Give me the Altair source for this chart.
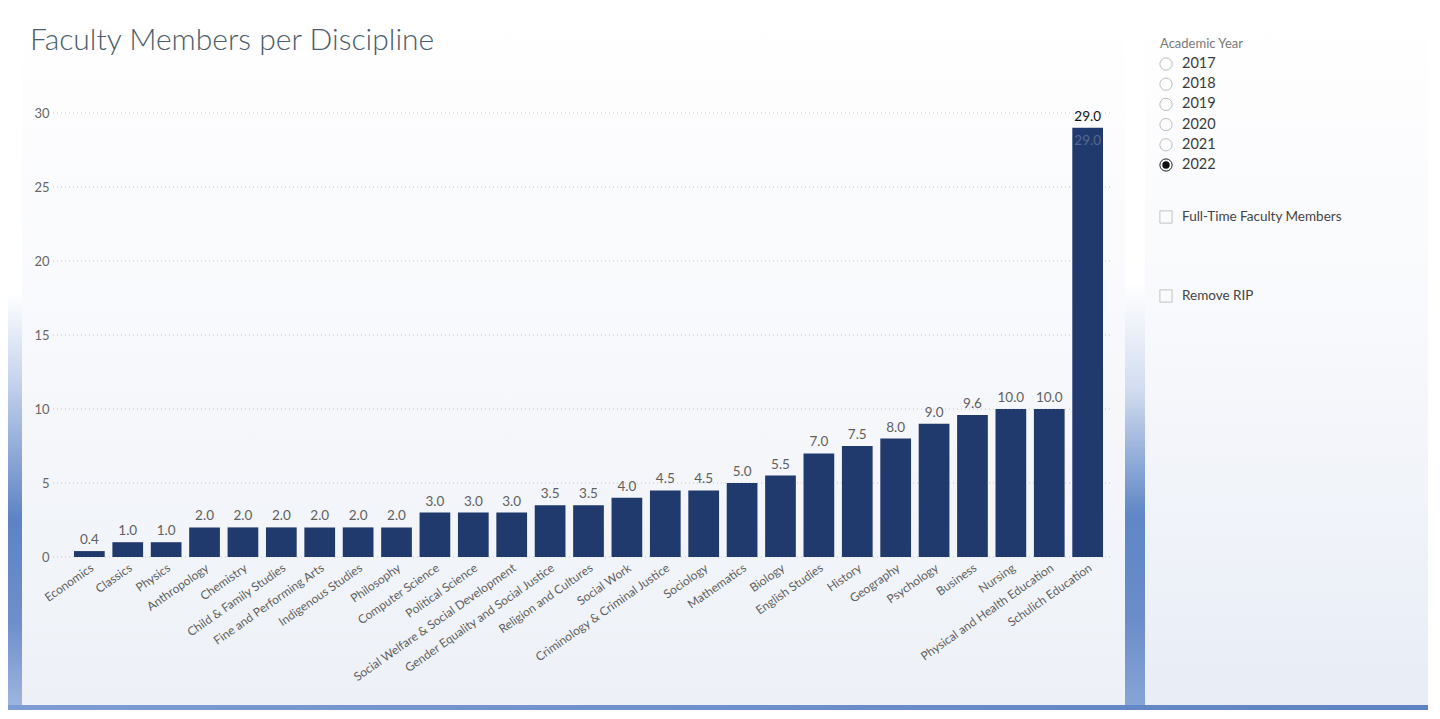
import altair as alt
import pandas as pd

# ---------------- data ----------------
disciplines = [
    "Economics", "Classics", "Physics", "Anthropology", "Chemistry",
    "Child & Family Studies", "Fine and Performing Arts", "Indigenous Studies",
    "Philosophy", "Computer Science", "Political Science",
    "Social Welfare & Social Development", "Gender Equality and Social Justice",
    "Religion and Cultures", "Social Work", "Criminology & Criminal Justice",
    "Sociology", "Mathematics", "Biology", "English Studies", "History",
    "Geography", "Psychology", "Business", "Nursing",
    "Physical and Health Education", "Schulich Education",
]
faculty = [0.4, 1.0, 1.0, 2.0, 2.0, 2.0, 2.0, 2.0, 2.0, 3.0, 3.0, 3.0, 3.5, 3.5,
           4.0, 4.5, 4.5, 5.0, 5.5, 7.0, 7.5, 8.0, 9.0, 9.6, 10.0, 10.0, 29.0]
y_ticks = [0, 5, 10, 15, 20, 25, 30]
years = ["2017", "2018", "2019", "2020", "2021", "2022"]
selected_year = "2022"
checkbox_options = ["Full-Time Faculty Members", "Remove RIP"]
slicer_title = "Academic Year"
chart_title = "Faculty Members per Discipline"

# ---------------- layout / style ----------------
FONT = "Lato"
W, H = 1049, 444
TOTAL_W, TOTAL_H = 1420, 702
PAD_L, PAD_T = 56, 105
BAR_COLOR = "#213a6d"

df = pd.DataFrame({"discipline": disciplines, "faculty": faculty})
peak = max(faculty)
one = pd.DataFrame({"k": [0]})

y_scale = alt.Scale(domain=[0, 30], nice=False)
x_enc = alt.X(
    "discipline:N", sort=disciplines,
    scale=alt.Scale(paddingInner=0.2, paddingOuter=0.26),
    axis=alt.Axis(title=None, labelAngle=-35, labelFontSize=12, labelColor="#5f5f5f",
                  labelFont=FONT, ticks=False, domain=False, labelPadding=5,
                  labelLimit=400, grid=False, zindex=2),
)


def grad(stops, vertical=True):
    return alt.Gradient(
        gradient="linear",
        stops=[alt.GradientStop(color=c, offset=o) for o, c in stops],
        x1=0, x2=0 if vertical else 1, y1=0, y2=1 if vertical else 0,
    )


def deco_rect(x, x2, y, y2, fill):
    return alt.Chart(one).mark_rect(color=fill).encode(
        x=alt.value(x), x2=alt.value(x2), y=alt.value(y), y2=alt.value(y2))


card = deco_rect(-42, 1061, -105, 592,
                 grad([(0, "#ffffff"), (0.45, "#f8f9fc"), (1, "#edf1f7")]))
left_strip = deco_rect(-56, -42, 180, 592,
                       grad([(0, "#ffffff"), (0.2, "#c9d6ee"), (0.55, "#5d83c4"),
                             (0.8, "#6e8fcb"), (1, "#9db4de")]))
right_strip = deco_rect(1061, 1081, 170, 592,
                        grad([(0, "#ffffff"), (0.25, "#d3ddf0"), (0.55, "#5f86c6"),
                              (0.8, "#6b8dca"), (1, "#88a4d6")]))
panel_card = deco_rect(1081, 1366, -105, 592,
                       grad([(0, "#ffffff"), (0.45, "#f8f9fc"), (1, "#e8edf6")]))
bottom_strip = deco_rect(-56, 1366, 592, 597,
                         grad([(0, "#7e9cd2"), (1, "#5d83c4")], vertical=False))

title = alt.Chart(pd.DataFrame({"t": [chart_title]})).mark_text(
    align="left", baseline="alphabetic", fontSize=30, font=FONT, fontWeight=300,
    color="#4c5d6c",
).encode(x=alt.value(-34), y=alt.value(-63), text="t:N")

grid = alt.Chart(pd.DataFrame({"tick": y_ticks})).mark_rule(
    color="#c4c4c4", strokeDash=[1, 3], strokeWidth=1
).encode(
    y=alt.Y("tick:Q", scale=y_scale, axis=None),
    x=alt.value(-11), x2=alt.value(W),
)

bars = alt.Chart(df).mark_bar(color=BAR_COLOR).encode(
    x=x_enc,
    y=alt.Y("faculty:Q", scale=y_scale,
            axis=alt.Axis(title=None, orient="left", values=y_ticks, grid=False,
                          ticks=False, domain=False, labelFontSize=13,
                          labelColor="#666666", labelFont=FONT, labelPadding=15,
                          zindex=2)),
)

labels = alt.Chart(df).mark_text(
    baseline="alphabetic", dy=-7, fontSize=13.5, font=FONT
).encode(
    x=x_enc,
    y=alt.Y("faculty:Q", scale=y_scale, axis=None),
    text=alt.Text("faculty:Q", format=".1f"),
    color=alt.condition(f"datum.faculty >= {peak}", alt.value("#111111"),
                        alt.value("#5f5f5f")),
)

inner_label = alt.Chart(df).transform_filter(
    f"datum.faculty >= {peak}"
).mark_text(baseline="top", dy=6, fontSize=13.5, font=FONT, color="#55688f").encode(
    x=x_enc,
    y=alt.Y("faculty:Q", scale=y_scale, axis=None),
    text=alt.Text("faculty:Q", format=".1f"),
)

# ---------------- slicer panel ----------------
ydf = pd.DataFrame({"year": years, "selected": [y == selected_year for y in years]})
year_y = alt.Y("year:O", sort=years,
               scale=alt.Scale(type="point", domain=years, range=[-49, 52], padding=0),
               axis=None)

slicer_head = alt.Chart(pd.DataFrame({"t": [slicer_title]})).mark_text(
    align="left", fontSize=13, font=FONT, color="#7a7a7a"
).encode(x=alt.value(1096), y=alt.value(-69), text="t:N")

radio_ring = alt.Chart(ydf).mark_point(shape="circle", filled=False, size=150,
                                       strokeWidth=1, opacity=1).encode(
    x=alt.value(1102), y=year_y,
    color=alt.condition("datum.selected", alt.value("#222222"), alt.value("#bdbdbd")),
)
radio_dot = alt.Chart(ydf).transform_filter("datum.selected").mark_point(
    shape="circle", filled=True, size=55, color="#111111", opacity=1
).encode(x=alt.value(1102), y=year_y)
year_text = alt.Chart(ydf).mark_text(
    align="left", fontSize=14.5, font=FONT, color="#3a3a3a"
).encode(x=alt.value(1118), y=year_y, text="year:N")

cdf = pd.DataFrame({"option": checkbox_options})
cb_y = alt.Y("option:O", sort=checkbox_options,
             scale=alt.Scale(type="point", domain=checkbox_options, range=[104, 183],
                             padding=0), axis=None)
cb_box = alt.Chart(cdf).mark_square(filled=False, size=150, strokeWidth=1,
                                    color="#c2c2c2", opacity=1).encode(
    x=alt.value(1102), y=cb_y)
cb_text = alt.Chart(cdf).mark_text(
    align="left", fontSize=13.5, font=FONT, color="#444444"
).encode(x=alt.value(1118), y=cb_y, text="option:N")

chart = alt.layer(
    card, panel_card, left_strip, right_strip, bottom_strip, title, grid, bars,
    labels, inner_label, slicer_head, radio_ring, radio_dot, year_text, cb_box, cb_text,
).resolve_scale(y="independent").properties(
    width=W, height=H,
    padding={"left": PAD_L, "top": PAD_T, "right": TOTAL_W - PAD_L - W,
             "bottom": TOTAL_H - PAD_T - H},
    autosize=alt.AutoSizeParams(type="none"),
    background="#ffffff",
).configure_view(stroke=None)

chart.save("out.html", embed_options={"renderer": "svg", "actions": False})
